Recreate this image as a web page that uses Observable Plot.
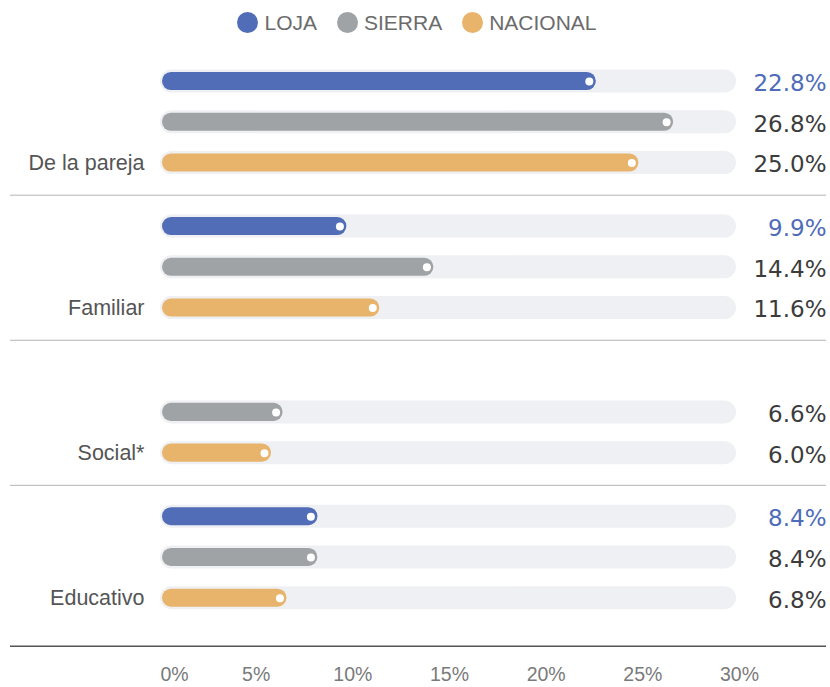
<!DOCTYPE html>
<html>
<head>
<meta charset="utf-8">
<script src="https://cdn.jsdelivr.net/npm/d3@7"></script>
<script src="https://cdn.jsdelivr.net/npm/@observablehq/plot@0.6"></script>
<style>
  body { margin: 0; background: #fff; }
  #legend { height: 45px; display: flex; justify-content: center; align-items: center; gap: 20px;
    font-family: "Liberation Sans", Arial, sans-serif; font-size: 21px; color: #6b6b6b; padding-left: 4px; box-sizing: border-box; }
  .item { display: flex; align-items: center; }
  .sw { width: 21px; height: 21px; border-radius: 50%; margin-right: 6px; }
  #chart svg { display: block; }
</style>
</head>
<body>
<div id="legend"></div>
<div id="chart"></div>
<script>
const groups = ["De la pareja", "Familiar", "Social*", "Educativo"];
const series = ["LOJA", "SIERRA", "NACIONAL"];
const loja = [22.8, 9.9, null, 8.4];
const sierra = [26.8, 14.4, 6.6, 8.4];
const nacional = [25.0, 11.6, 6.0, 6.8];
const xTicks = [0, 5, 10, 15, 20, 25, 30];
const colors = ["#516db7", "#a0a3a6", "#e8b36b"];

const valuesBySeries = [loja, sierra, nacional];
const STRIDE = 3.56, SEP = 2.79, BASE = 13.86, TICKY = 14.56;

const rows = [];
groups.forEach((g, gi) => series.forEach((s, si) => {
  const v = valuesBySeries[si][gi];
  if (v != null) rows.push({group: g, series: s, value: v, pos: gi * STRIDE + si});
}));
const labels = groups.map((g, gi) => ({group: g, pos: gi * STRIDE + 2}));
const seps = groups.slice(0, -1).map((g, gi) => ({pos: gi * STRIDE + SEP}));

// legend
const legend = document.getElementById("legend");
series.forEach((s, i) => {
  const it = document.createElement("div");
  it.className = "item";
  it.innerHTML = `<span class="sw" style="background:${colors[i]}"></span><span>${s}</span>`;
  legend.appendChild(it);
});

const chart = Plot.plot({
  width: 830,
  height: 642,
  marginLeft: 10,
  marginRight: 4,
  marginTop: 0,
  marginBottom: 0,
  x: {domain: [0, 30], range: [148, 728], axis: null},
  y: {domain: [0, 15], range: [36, 36 + 15 * 40.75], axis: null},
  color: {domain: series, range: colors},
  marks: [
    Plot.ruleY(seps, {y: "pos", stroke: "#b4b4b4", strokeWidth: 1}),
    Plot.ruleY([BASE], {y: d => d, stroke: "#555", strokeWidth: 1.5}),
    Plot.rect(rows, {x1: 0, x2: 30, y1: d => d.pos - 0.282, y2: d => d.pos + 0.282,
      insetLeft: 12, insetRight: -8, rx: 11.5, fill: "#eff0f3"}),
    Plot.rect(rows, {x1: 0, x2: "value", y1: d => d.pos - 0.222, y2: d => d.pos + 0.222,
      insetLeft: 14, insetRight: -7, rx: 9, fill: "series"}),
    Plot.dot(rows, {x: "value", y: "pos", r: 4, fill: "white"}),
    Plot.text(rows, {filter: d => d.series === "LOJA", y: "pos", frameAnchor: "right", textAnchor: "end",
      text: d => d.value.toFixed(1) + "%", fill: "#4f6cb8", fontSize: 23, fontFamily: "DejaVu Sans", dy: 2}),
    Plot.text(rows, {filter: d => d.series !== "LOJA", y: "pos", frameAnchor: "right", textAnchor: "end",
      text: d => d.value.toFixed(1) + "%", fill: "#3c3c3c", fontSize: 23, fontFamily: "DejaVu Sans", dy: 2}),
    Plot.text(labels, {x: () => 0, y: "pos", text: "group", textAnchor: "end", dx: -4,
      fontSize: 21.5, fill: "#555", fontFamily: "Liberation Sans"}),
    Plot.text(xTicks.filter(t => t === 0), {x: d => d, y: () => TICKY, text: d => d + "%", dx: 26,
      fontSize: 19.5, fill: "#7a7a7a", fontFamily: "Liberation Sans"}),
    Plot.text(xTicks.filter(t => t > 0), {x: d => d, y: () => TICKY, text: d => d + "%", dx: 11,
      fontSize: 19.5, fill: "#7a7a7a", fontFamily: "Liberation Sans"})
  ]
});
document.getElementById("chart").appendChild(chart);
</script>
</body>
</html>
